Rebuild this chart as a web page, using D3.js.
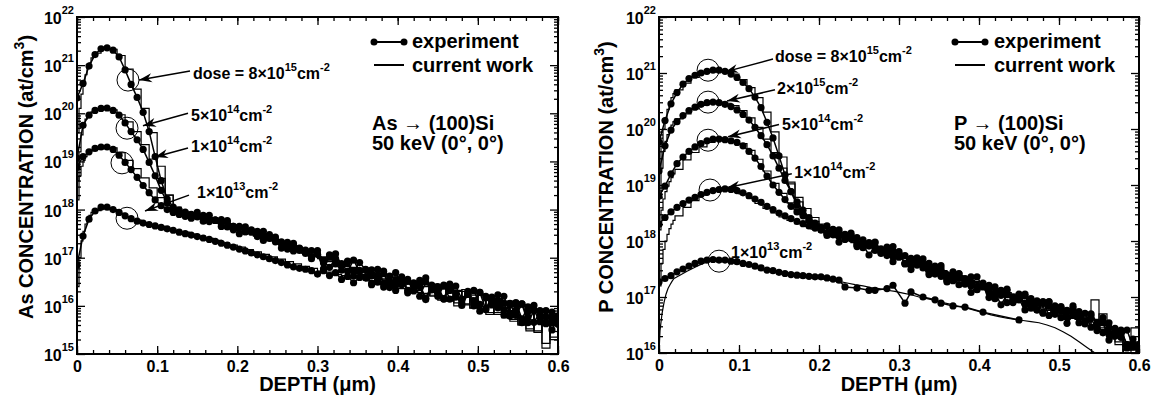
<!DOCTYPE html>
<html>
<head>
<meta charset="utf-8">
<script src="https://cdn.jsdelivr.net/npm/d3@7"></script>
<style>
  html, body { margin: 0; padding: 0; background: #fff; }
  svg { display: block; font-family: "Liberation Sans", Arial, Helvetica, sans-serif; font-weight: bold; }
</style>
</head>
<body>
<svg id="chart" width="1160" height="400"></svg>
<script>
// ---------------------------------------------------------------
// Implant profiles, concentrations given as log10(at/cm^3).
// Experimental (SIMS) points sit on a uniform depth grid; simulated
// profiles are histograms whose bins start at simBinStarts.
// ---------------------------------------------------------------
const depthDomain = [0, 0.6];
const expDepthStep = 0.0075; // µm between measured points
const simBinStarts = [0, 0.0025, 0.005, 0.0075, 0.01, 0.0125, 0.015, 0.0175, 0.02,
  0.03, 0.04, 0.05, 0.06, 0.07, 0.08, 0.09, 0.10, 0.11, 0.12, 0.13, 0.14, 0.15, 0.16,
  0.17, 0.18, 0.19, 0.20, 0.21, 0.22, 0.23, 0.24, 0.25, 0.26, 0.27, 0.28, 0.29, 0.30,
  0.31, 0.32, 0.33, 0.34, 0.35, 0.36, 0.37, 0.38, 0.39, 0.40, 0.41, 0.42, 0.43, 0.44,
  0.45, 0.46, 0.47, 0.48, 0.49, 0.50, 0.51, 0.52, 0.53, 0.54, 0.55, 0.56, 0.57, 0.58, 0.59];

// ---- As -> (100)Si, 50 keV ----
const asDoses = ["8×10^15", "5×10^14", "1×10^14", "1×10^13"];

const asExp8e15 = [20.32,20.62,20.98,21.22,21.34,21.36,21.31,21.17,20.9,20.6,
  20.33,20.02,19.62,19.1,18.6,18.22,18.05,17.99,17.95,17.9,
  17.94,17.85,17.88,17.78,17.79,17.77,17.65,17.65,17.64,17.53,
  17.55,17.55,17.42,17.43,17.29,17.32,17.3,17.19,17.11,17.15,
  17.07,16.89,17.06,17.08,16.85,16.91,16.71,16.9,16.75,16.62,
  16.76,16.47,16.62,16.69,16.44,16.51,16.33,16.53,16.58,16.34,
  16.2,16.41,16.32,16.41,16.14,16.27,16.0,16.28,16.17,16.02,
  16.23,15.91,16.02,16.07,15.73,15.98,16.01,15.77,15.64,15.87,
  15.79];
const asExp5e14 = [19.07,19.75,19.96,20.06,20.1,20.11,20.06,19.96,19.8,19.62,
  19.45,19.25,18.98,18.7,18.4,18.15,18.0,17.93,17.9,17.84,
  17.86,17.88,17.75,17.78,17.71,17.74,17.58,17.63,17.54,17.58,
  17.44,17.46,17.48,17.33,17.33,17.18,17.26,17.15,17.16,17.02,
  17.15,16.93,16.8,16.98,16.88,16.72,16.95,16.71,16.58,16.75,
  16.55,16.72,16.38,16.54,16.57,16.32,16.48,16.2,16.49,16.33,
  16.4,16.15,16.45,16.18,16.11,16.3,16.11,16.28,15.92,16.12,
  15.96,16.2,15.85,15.9,16.04,15.65,15.9,15.9,15.63,15.76,
  15.62];
const asExp1e14 = [18.88,19.1,19.2,19.27,19.3,19.3,19.25,19.13,18.98,18.83,
  18.67,18.5,18.35,18.2,18.08,18.0,17.94,17.9,17.86,17.82,
  17.85,17.76,17.79,17.78,17.65,17.64,17.65,17.5,17.54,17.56,
  17.45,17.36,17.4,17.38,17.2,17.25,17.14,17.2,17.09,16.98,
  17.07,16.77,17.02,16.87,16.74,16.93,16.62,16.74,16.76,16.44,
  16.64,16.67,16.41,16.44,16.6,16.27,16.41,16.47,16.13,16.39,
  16.3,16.14,16.38,16.25,16.01,16.24,16.06,15.89,16.2,16.05,
  16.09,15.81,16.05,15.8,16.04,15.77,15.66,15.86,15.77,15.5,
  15.76];
const asExp1e13 = [16.85,17.45,17.8,17.97,18.05,18.05,18.0,17.94,17.87,17.81,
  17.76,17.72,17.69,17.66,17.63,17.6,17.57,17.53,17.5,17.47,
  17.44,17.41,17.38,17.34,17.3,17.26,17.22,17.18,17.14,17.1,
  17.06,17.02,16.98,16.94,16.9,16.85,16.81,16.78,16.76,16.73,
  16.66,16.73,16.63,16.69,16.55,16.61,16.48,16.59,16.61,16.47,
  16.49,16.39,16.5,16.32,16.5,16.55,16.31,16.4,16.16,16.43,
  16.25,16.43,16.14,16.26,16.05,16.24,16.32,16.03,15.95,16.18,
  15.99,16.05,15.79,16.03,15.65,15.88,15.91,15.67,15.9,15.65,
  15.71];

const asSim8e15 = [19.6,20.1,20.4,20.6,20.8,20.95,21.05,21.15,21.25,
  21.35,21.33,21.2,20.92,20.5,20.1,19.6,18.9,18.3,18.02,
  17.95,17.9,17.84,17.82,17.74,17.72,17.64,17.6,17.55,17.5,
  17.42,17.4,17.3,17.25,17.2,17.12,17.08,17.0,16.96,16.9,
  16.86,16.78,16.74,16.66,16.64,16.56,16.6,16.52,16.3,16.5,
  16.22,16.45,16.12,16.38,16.0,16.34,15.95,16.25,15.82,16.15,
  15.75,16.1,15.6,16.02,15.45,15.9,15.35];
const asSim5e14 = [18.6,19.2,19.55,19.75,19.88,19.95,20.0,20.03,20.06,
  20.1,20.07,19.97,19.82,19.62,19.35,19.05,18.65,18.3,18.05,
  17.95,17.88,17.85,17.78,17.75,17.68,17.62,17.58,17.52,17.48,
  17.4,17.38,17.3,17.22,17.2,17.1,17.05,17.02,16.92,16.9,
  16.82,16.8,16.7,16.72,16.58,16.62,16.44,16.56,16.36,16.48,
  16.26,16.44,16.18,16.36,16.06,16.3,15.96,16.22,15.86,16.14,
  15.76,16.08,15.62,15.98,15.48,15.88,15.3];
const asSim1e14 = [18.2,18.7,18.9,19.02,19.1,19.15,19.19,19.22,19.25,
  19.3,19.28,19.18,19.02,18.85,18.66,18.45,18.25,18.08,17.98,
  17.92,17.86,17.82,17.76,17.72,17.66,17.6,17.56,17.5,17.45,
  17.38,17.35,17.28,17.22,17.17,17.1,17.04,16.98,16.95,16.86,
  16.84,16.75,16.74,16.64,16.65,16.54,16.58,16.42,16.5,16.32,
  16.45,16.22,16.38,16.14,16.32,16.04,16.25,15.94,16.18,15.86,
  16.1,15.72,16.02,15.52,15.9,15.22,15.62];
const asSim1e13 = [16.4,17.0,17.35,17.55,17.7,17.8,17.88,17.94,17.98,
  18.05,18.0,17.92,17.85,17.78,17.73,17.69,17.65,17.61,17.57,
  17.53,17.49,17.45,17.4,17.36,17.31,17.26,17.22,17.17,17.12,
  17.07,17.02,16.97,16.92,16.87,16.82,16.78,16.72,16.7,16.65,
  16.63,16.58,16.57,16.52,16.5,16.44,16.5,16.36,16.46,16.28,
  16.4,16.2,16.36,16.1,16.3,16.02,16.22,15.92,16.14,15.82,
  16.06,15.68,15.98,15.48,15.88,15.12,15.72];

// ---- P -> (100)Si, 50 keV ----
const pDoses = ["8×10^15", "2×10^15", "5×10^14", "1×10^14", "1×10^13"];

const pExp8e15 = [19.77,20.15,20.45,20.65,20.8,20.9,20.96,21.0,21.03,21.05,
  21.05,21.03,20.98,20.92,20.83,20.72,20.57,20.38,20.12,19.84,
  19.52,19.18,18.88,18.64,18.48,18.37,18.28,
  18.2,18.27,18.11,18.16,18.09,18.14,17.93,18.02,17.91,17.97,
  17.79,17.84,17.9,17.71,17.74,17.56,17.7,17.58,17.6,17.43,
  17.56,17.4,17.29,17.41,17.32,17.2,17.36,17.18,17.08,17.18,
  17.03,17.14,16.9,17.01,17.02,16.83,16.93,16.72,16.91,16.79,
  16.83,16.64,16.84,16.64,16.58,16.7,16.54,16.63,16.33,16.44,
  16.28,16.41,16.11,16.09];
const pExp2e15 = [19.25,19.7,19.98,20.13,20.24,20.33,20.39,20.44,20.47,20.48,
  20.47,20.44,20.4,20.34,20.26,20.16,20.03,19.88,19.72,19.52,
  19.3,19.08,18.88,18.7,18.55,18.42,18.32,
  18.23,18.13,18.2,18.2,18.03,18.04,18.06,17.88,17.95,17.98,
  17.83,17.74,17.82,17.81,17.59,17.69,17.57,17.68,17.54,17.41,
  17.51,17.29,17.45,17.34,17.23,17.36,17.14,17.21,17.21,16.97,
  17.1,17.11,16.93,16.95,17.05,16.8,16.89,16.92,16.67,16.84,
  16.76,16.64,16.8,16.7,16.52,16.67,16.52,16.36,16.54,16.39,
  16.38,16.15,16.25,16.03];
const pExp5e14 = [18.8,18.98,19.2,19.38,19.5,19.6,19.68,19.74,19.79,19.82,
  19.82,19.81,19.79,19.76,19.7,19.6,19.48,19.33,19.16,19.0,
  18.87,18.74,18.62,18.52,18.45,18.37,18.3,
  18.24,18.14,18.21,18.09,18.12,18.1,17.95,17.96,17.97,17.83,
  17.86,17.89,17.73,17.77,17.6,17.67,17.67,17.55,17.45,17.54,
  17.44,17.31,17.41,17.42,17.24,17.27,17.13,17.25,17.13,17.03,
  17.12,16.9,17.0,17.05,16.87,16.9,16.77,16.89,16.92,16.73,
  16.63,16.76,16.68,16.74,16.54,16.62,16.4,16.56,16.45,16.3,
  16.41,16.15,16.16,16.15];
const pExp1e14 = [18.3,18.42,18.52,18.6,18.67,18.73,18.78,18.83,18.87,18.9,
  18.92,18.93,18.92,18.9,18.86,18.81,18.75,18.69,18.62,18.56,
  18.5,18.45,18.4,18.35,18.31,18.27,18.23,
  18.2,18.1,18.16,17.98,18.03,18.09,17.9,17.93,17.75,17.9,
  17.78,17.8,17.63,17.76,17.6,17.49,17.61,17.52,17.4,17.55,
  17.37,17.27,17.37,17.22,17.33,17.08,17.19,17.19,16.99,17.08,
  16.86,17.04,16.92,16.96,16.77,16.97,16.77,16.71,16.83,16.69,
  16.8,16.53,16.67,16.54,16.71,16.46,16.46,16.54,16.23,16.36,
  16.33,16.09,16.12,15.97];
const pExp1e13 = [17.27,17.33,17.38,17.45,17.5,17.55,17.6,17.64,17.66,17.67,
  17.66,17.66,17.64,17.63,17.6,17.58,17.55,17.52,17.48,17.47,
  17.44,17.42,17.4,17.39,17.38,17.37,17.36,17.36,17.34,17.32,
  17.3,17.18,null,17.16,null,17.12,17.12,null,17.15,17.21,
  null,16.89,17.09,null,17.0,null,16.95,16.89,null,16.84,
  null,16.82,null,null,16.73,null,null,null,null,null,
  16.59];

const pSim8e15 = [19.3,19.75,20.0,20.2,20.35,20.47,20.56,20.63,20.7,
  20.82,20.92,20.99,21.03,21.05,21.03,20.98,20.88,20.74,20.56,
  20.3,19.95,19.5,19.05,18.7,18.45,18.3,18.2,18.14,18.08,
  18.02,17.98,17.92,17.88,17.82,17.8,17.72,17.7,17.62,17.6,
  17.52,17.5,17.42,17.4,17.32,17.3,17.22,17.2,17.1,17.12,
  17.02,17.05,16.92,16.95,16.82,16.88,16.72,16.8,16.65,16.7,
  16.55,16.95,16.45,16.3,16.15,16.05,16.45];
const pSim2e15 = [18.8,19.3,19.6,19.78,19.9,20.0,20.07,20.13,20.18,
  20.27,20.36,20.42,20.46,20.48,20.46,20.42,20.33,20.2,20.03,
  19.82,19.58,19.3,19.02,18.78,18.58,18.42,18.3,18.2,18.12,
  18.06,18.0,17.95,17.9,17.86,17.8,17.76,17.7,17.66,17.6,
  17.56,17.5,17.46,17.38,17.36,17.28,17.26,17.16,17.16,17.06,
  17.08,16.96,16.98,16.86,16.9,16.76,16.82,16.68,16.74,16.6,
  16.66,16.5,16.7,16.38,16.3,16.12,16.05];
const pSim5e14 = [18.2,18.55,18.75,18.88,18.98,19.06,19.13,19.2,19.28,
  19.45,19.58,19.68,19.76,19.8,19.81,19.79,19.74,19.62,19.46,
  19.25,19.03,18.85,18.68,18.55,18.44,18.35,18.27,18.2,18.13,
  18.08,18.02,17.97,17.92,17.86,17.82,17.76,17.72,17.66,17.62,
  17.55,17.52,17.45,17.42,17.35,17.32,17.25,17.22,17.14,17.12,
  17.04,17.02,16.94,16.92,16.84,16.84,16.74,16.76,16.64,16.68,
  16.56,16.6,16.42,16.35,16.2,15.9,15.95];
const pSim1e14 = [17.2,17.6,17.85,18.0,18.12,18.22,18.3,18.37,18.45,
  18.6,18.72,18.82,18.88,18.92,18.93,18.9,18.84,18.76,18.67,
  18.58,18.5,18.43,18.37,18.31,18.26,18.21,18.16,18.11,18.06,
  18.01,17.97,17.92,17.88,17.83,17.79,17.74,17.7,17.65,17.6,
  17.56,17.5,17.47,17.4,17.38,17.3,17.28,17.2,17.18,17.1,
  17.08,17.0,16.98,16.9,16.88,16.8,16.8,16.7,16.72,16.62,
  16.62,16.5,16.5,16.25,16.32,15.95,16.2];
const pSim1e13 = [16.4,16.7,16.9,17.05,17.15,17.22,17.28,17.33,17.38,
  17.46,17.53,17.6,17.64,17.66,17.66,17.64,17.61,17.57,17.53,
  17.49,17.45,17.42,17.4,17.38,17.36,17.34,17.32,17.3,17.28,
  17.25,17.22,17.2,17.17,17.15,17.12,17.1,17.07,17.04,17.0,
  16.97,16.94,16.9,16.87,16.83,16.8,16.76,16.72,16.68,16.65,
  16.62,16.6,16.58,16.56,16.54,16.5,16.45,16.38,16.3,16.2,
  16.1,15.9,15.8,15.8,15.8,15.8,15.8];

// x tick values (µm)
const depthMajorTicks = [0, 0.1, 0.2, 0.3, 0.4, 0.5, 0.6];
const depthMinorTicks = d3.range(0, 31).map(i => i * 0.02);

// ---------------------------------------------------------------
// Panel layout
// ---------------------------------------------------------------
const panels = [
  {
    ion: "As", logMin: 15, logMax: 22,
    left: 77, right: 558, top: 17, bottom: 354,
    titleX: 33,
    legendX: 374, textX: 412, noteX: 372,
    exps: [asExp8e15, asExp5e14, asExp1e14, asExp1e13],
    sims: [asSim8e15, asSim5e14, asSim1e14, asSim1e13],
    simCurves: ["step", "step", "step", "step"],
    doses: asDoses,
    // circle, arrow (from -> to) and label anchor, all in (depth, log10 conc)
    notes: [
      { circle: [0.0636, 20.69], from: [0.141, 20.88], to: [0.0773, 20.69], label: [0.1447, 20.72], prefix: "dose = " },
      { circle: [0.0624, 19.69], from: [0.1385, 20.0], to: [0.0823, 19.74], label: [0.1422, 19.85] },
      { circle: [0.0561, 18.97], from: [0.1385, 19.28], to: [0.0973, 19.09], label: [0.1422, 19.20] },
      { circle: [0.0624, 17.82], from: [0.1397, 18.30], to: [0.0848, 17.97], label: [0.1497, 18.24] }
    ]
  },
  {
    ion: "P", logMin: 16, logMax: 22,
    left: 659, right: 1139, top: 17, bottom: 353,
    titleX: 613,
    legendX: 955, textX: 994, noteX: 954,
    exps: [pExp8e15, pExp2e15, pExp5e14, pExp1e14, pExp1e13],
    sims: [pSim8e15, pSim2e15, pSim5e14, pSim1e14, pSim1e13],
    simCurves: ["step", "step", "step", "step", "linear"],
    doses: pDoses,
    notes: [
      { circle: [0.0613, 21.05], from: [0.1425, 21.25], to: [0.0825, 21.02], label: [0.145, 21.2], prefix: "dose = " },
      { circle: [0.0613, 20.48], from: [0.145, 20.70], to: [0.085, 20.50], label: [0.1475, 20.62] },
      { circle: [0.0613, 19.80], from: [0.150, 20.08], to: [0.0863, 19.86], label: [0.1538, 19.99] },
      { circle: [0.0638, 18.91], from: [0.166, 19.20], to: [0.085, 18.95], label: [0.169, 19.12] },
      { circle: [0.075, 17.64], from: null, to: null, label: [0.090, 17.70] }
    ]
  }
];

const svg = d3.select("#chart");

// text with raised superscript parts: parts = [[string, isSup], ...]
function richText(g, parts, x, y, size, supSize, raise, anchor) {
  const t = g.append("text")
    .attr("x", x).attr("y", y)
    .attr("font-size", size)
    .attr("text-anchor", anchor || "start");
  let cur = 0;
  parts.forEach(([s, sup]) => {
    const target = sup ? -raise : 0;
    t.append("tspan")
      .attr("dy", target - cur)
      .attr("font-size", sup ? supSize : size)
      .text(s);
    cur = target;
  });
  return t;
}

function doseParts(dose, prefix) {
  const [mant, exp] = dose.split("^");
  return [[(prefix || "") + mant, false], [exp, true], ["cm", false], ["-2", true]];
}

function arrowHead(g, x1, y1, x2, y2) {
  const a = Math.atan2(y2 - y1, x2 - x1);
  const len = 13, half = 4.5, notch = 9;
  const pt = (l, w) => [x2 - l * Math.cos(a) - w * Math.sin(a), y2 - l * Math.sin(a) + w * Math.cos(a)];
  const p1 = pt(len, half), p2 = pt(notch, 0), p3 = pt(len, -half);
  g.append("path")
    .attr("d", `M${x2},${y2}L${p1[0]},${p1[1]}L${p2[0]},${p2[1]}L${p3[0]},${p3[1]}Z`)
    .attr("fill", "#000");
}

panels.forEach((p, pi) => {
  const x = d3.scaleLinear().domain(depthDomain).range([p.left, p.right]);
  const y = d3.scaleLog().domain([10 ** p.logMin, 10 ** p.logMax]).range([p.bottom, p.top]).clamp(true);
  const yl = v => y(10 ** v);
  const g = svg.append("g");

  // clip region for the profiles
  const clipId = "clip" + pi;
  svg.append("clipPath").attr("id", clipId)
    .append("rect").attr("x", p.left).attr("y", p.top)
    .attr("width", p.right - p.left).attr("height", p.bottom - p.top);
  const plot = g.append("g").attr("clip-path", `url(#${clipId})`);

  // simulated histograms (start from zero concentration at the surface)
  p.sims.forEach((vals, si) => {
    const isStep = p.simCurves[si] === "step";
    let data;
    if (isStep) {
      data = [[0, null]].concat(vals.map((v, i) => [simBinStarts[i], v]));
      data.push([depthDomain[1], vals[vals.length - 1]]);
    } else {
      data = [[0, null]].concat(vals.map((v, i) => {
        const end = i + 1 < simBinStarts.length ? simBinStarts[i + 1] : depthDomain[1];
        return [(simBinStarts[i] + end) / 2, v];
      }));
    }
    const line = d3.line()
      .x(d => x(d[0]))
      .y(d => d[1] === null ? y.range()[0] : yl(d[1]))
      .curve(isStep ? d3.curveStepAfter : d3.curveLinear);
    plot.append("path")
      .attr("d", line(data))
      .attr("fill", "none")
      .attr("stroke", "#000")
      .attr("stroke-width", 1.2);
  });

  // experimental profiles
  p.exps.forEach(vals => {
    const pts = vals.map((v, i) => [i * expDepthStep, v]).filter(d => d[1] !== null);
    plot.append("path")
      .attr("d", d3.line().x(d => x(d[0])).y(d => yl(d[1]))(pts))
      .attr("fill", "none")
      .attr("stroke", "#000")
      .attr("stroke-width", 1.5);
    plot.append("g").selectAll("circle").data(pts).join("circle")
      .attr("cx", d => x(d[0])).attr("cy", d => yl(d[1]))
      .attr("r", 3.6).attr("fill", "#000");
  });

  // axes: ticks point inward on all four sides
  const fmtDepth = d => d === 0 ? "0" : d3.format(".1f")(d);
  const xb = g.append("g").attr("transform", `translate(0,${p.bottom})`)
    .call(d3.axisBottom(x).tickValues(depthMajorTicks).tickSize(-8).tickPadding(6.6).tickFormat(fmtDepth));
  xb.selectAll("text").attr("font-size", 16).attr("font-family", null).attr("fill", "#000");
  g.append("g").attr("transform", `translate(0,${p.bottom})`)
    .call(d3.axisBottom(x).tickValues(depthMinorTicks).tickSize(-4).tickFormat(""));
  g.append("g").attr("transform", `translate(0,${p.top})`)
    .call(d3.axisTop(x).tickValues(depthMajorTicks).tickSize(-8).tickFormat(""));
  g.append("g").attr("transform", `translate(0,${p.top})`)
    .call(d3.axisTop(x).tickValues(depthMinorTicks).tickSize(-4).tickFormat(""));

  const decades = d3.range(p.logMin, p.logMax + 1);
  const majorY = decades.map(e => 10 ** e);
  const minorY = [];
  decades.slice(0, -1).forEach(e => { for (let k = 2; k <= 9; k++) minorY.push(k * 10 ** e); });
  [[d3.axisLeft, p.left], [d3.axisRight, p.right]].forEach(([ax, pos]) => {
    g.append("g").attr("transform", `translate(${pos},0)`)
      .call(ax(y).tickValues(majorY).tickSize(-8).tickFormat(""));
    g.append("g").attr("transform", `translate(${pos},0)`)
      .call(ax(y).tickValues(minorY).tickSize(-4).tickFormat(""));
  });
  g.selectAll(".domain").remove();
  g.selectAll(".tick line").attr("stroke", "#000").attr("stroke-width", 1.3);

  // frame
  g.append("rect")
    .attr("x", p.left).attr("y", p.top)
    .attr("width", p.right - p.left).attr("height", p.bottom - p.top)
    .attr("fill", "none").attr("stroke", "#000").attr("stroke-width", 2);

  // decade labels 10^n
  decades.forEach(e => {
    richText(g, [["10", false], [String(e), true]], p.left - 3, y(10 ** e) + 7, 16, 11, 10, "end");
  });

  // axis titles
  richText(g, [["DEPTH (μm)", false]], (p.left + p.right) / 2, 391, 20, 20, 0, "middle");
  richText(g, [[p.ion + " CONCENTRATION (at/cm", false], ["3", true], [")", false]],
    0, 0, 20, 14, 9, "middle")
    .attr("transform", `translate(${p.titleX},177) rotate(-90)`);

  // legend
  const lg = g.append("g");
  lg.append("line").attr("x1", p.legendX).attr("x2", p.legendX + 30)
    .attr("y1", 42).attr("y2", 42).attr("stroke", "#000").attr("stroke-width", 2);
  lg.selectAll("circle").data([p.legendX, p.legendX + 30]).join("circle")
    .attr("cx", d => d).attr("cy", 42).attr("r", 3.5).attr("fill", "#000");
  lg.append("line").attr("x1", p.legendX).attr("x2", p.legendX + 30)
    .attr("y1", 65).attr("y2", 65).attr("stroke", "#000").attr("stroke-width", 2);
  richText(lg, [["experiment", false]], p.textX, 48, 20, 20, 0);
  richText(lg, [["current work", false]], p.textX, 72, 20, 20, 0);

  // implant conditions
  richText(g, [[p.ion + " → (100)Si", false]], p.noteX, 130, 20, 20, 0);
  richText(g, [["50 keV (0°, 0°)", false]], p.noteX, 150, 20, 20, 0);

  // dose call-outs
  p.notes.forEach((n, i) => {
    g.append("circle")
      .attr("cx", x(n.circle[0])).attr("cy", yl(n.circle[1]))
      .attr("r", 11).attr("fill", "none").attr("stroke", "#000").attr("stroke-width", 1);
    if (n.from) {
      const x1 = x(n.from[0]), y1 = yl(n.from[1]), x2 = x(n.to[0]), y2 = yl(n.to[1]);
      g.append("line").attr("x1", x1).attr("y1", y1).attr("x2", x2).attr("y2", y2)
        .attr("stroke", "#000").attr("stroke-width", 1.5);
      arrowHead(g, x1, y1, x2, y2);
    }
    richText(g, doseParts(p.doses[i], n.prefix), x(n.label[0]), yl(n.label[1]), 16, 11, 8);
  });
});
</script>
</body>
</html>
